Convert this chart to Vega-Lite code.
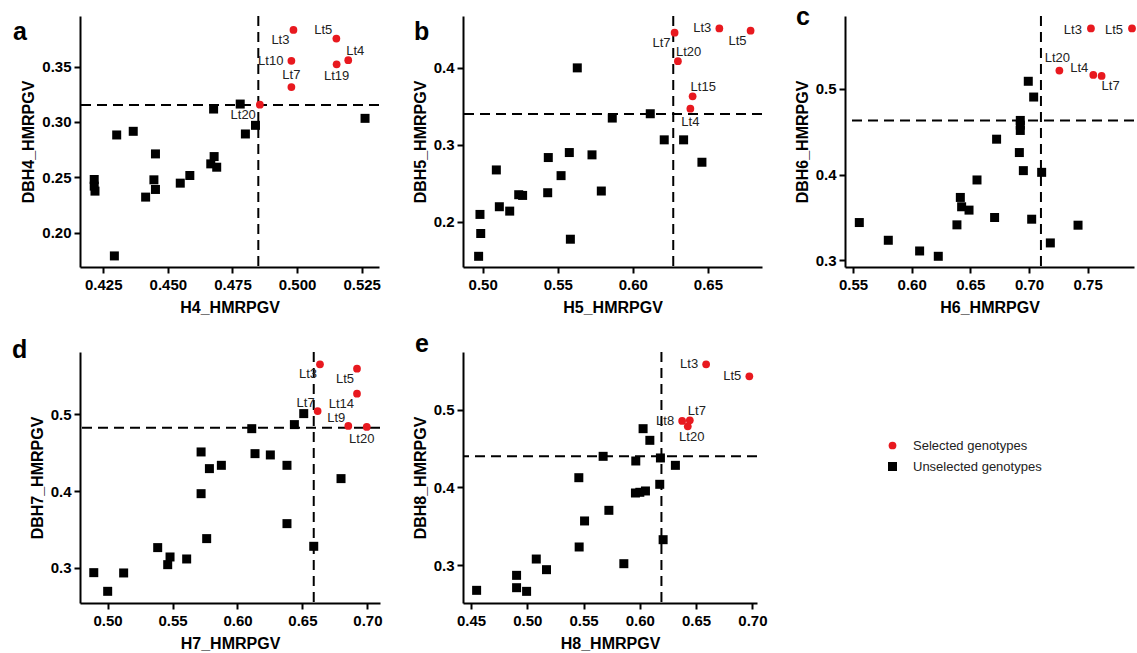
{
"$schema": "https://vega.github.io/schema/vega-lite/v6.json",
"padding": {"left": 12, "top": 5, "right": 2, "bottom": 2},
"datasets": {
"pts": [
{"panel":"a","label":"Lt3","x":0.4986,"y":0.383,"group":"Selected genotypes","pos":"BL"},
{"panel":"a","label":"Lt5","x":0.5152,"y":0.3752,"group":"Selected genotypes","pos":"TL"},
{"panel":"a","label":"Lt4","x":0.5198,"y":0.3557,"group":"Selected genotypes","pos":"TR"},
{"panel":"a","label":"Lt19","x":0.5153,"y":0.352,"group":"Selected genotypes","pos":"B"},
{"panel":"a","label":"Lt10","x":0.4978,"y":0.3551,"group":"Selected genotypes","pos":"L"},
{"panel":"a","label":"Lt7","x":0.4978,"y":0.3314,"group":"Selected genotypes","pos":"T"},
{"panel":"a","label":"Lt20","x":0.4856,"y":0.3155,"group":"Selected genotypes","pos":"BL"},
{"panel":"a","label":"","x":0.4215,"y":0.248,"group":"Unselected genotypes","pos":""},
{"panel":"a","label":"","x":0.4215,"y":0.242,"group":"Unselected genotypes","pos":""},
{"panel":"a","label":"","x":0.4218,"y":0.2375,"group":"Unselected genotypes","pos":""},
{"panel":"a","label":"","x":0.4293,"y":0.179,"group":"Unselected genotypes","pos":""},
{"panel":"a","label":"","x":0.4302,"y":0.2882,"group":"Unselected genotypes","pos":""},
{"panel":"a","label":"","x":0.4366,"y":0.2915,"group":"Unselected genotypes","pos":""},
{"panel":"a","label":"","x":0.4414,"y":0.2321,"group":"Unselected genotypes","pos":""},
{"panel":"a","label":"","x":0.4446,"y":0.2477,"group":"Unselected genotypes","pos":""},
{"panel":"a","label":"","x":0.4452,"y":0.239,"group":"Unselected genotypes","pos":""},
{"panel":"a","label":"","x":0.4452,"y":0.2711,"group":"Unselected genotypes","pos":""},
{"panel":"a","label":"","x":0.4548,"y":0.2447,"group":"Unselected genotypes","pos":""},
{"panel":"a","label":"","x":0.4585,"y":0.2516,"group":"Unselected genotypes","pos":""},
{"panel":"a","label":"","x":0.4666,"y":0.2621,"group":"Unselected genotypes","pos":""},
{"panel":"a","label":"","x":0.4679,"y":0.2687,"group":"Unselected genotypes","pos":""},
{"panel":"a","label":"","x":0.4689,"y":0.2591,"group":"Unselected genotypes","pos":""},
{"panel":"a","label":"","x":0.4677,"y":0.3116,"group":"Unselected genotypes","pos":""},
{"panel":"a","label":"","x":0.478,"y":0.3161,"group":"Unselected genotypes","pos":""},
{"panel":"a","label":"","x":0.48,"y":0.2891,"group":"Unselected genotypes","pos":""},
{"panel":"a","label":"","x":0.4839,"y":0.2969,"group":"Unselected genotypes","pos":""},
{"panel":"a","label":"","x":0.5263,"y":0.3032,"group":"Unselected genotypes","pos":""},
{"panel":"b","label":"Lt7","x":0.6278,"y":0.4457,"group":"Selected genotypes","pos":"BL"},
{"panel":"b","label":"Lt3","x":0.6576,"y":0.4513,"group":"Selected genotypes","pos":"L"},
{"panel":"b","label":"Lt5","x":0.6784,"y":0.4483,"group":"Selected genotypes","pos":"BL"},
{"panel":"b","label":"Lt20","x":0.63,"y":0.4087,"group":"Selected genotypes","pos":"TR"},
{"panel":"b","label":"Lt15","x":0.6398,"y":0.363,"group":"Selected genotypes","pos":"TR"},
{"panel":"b","label":"Lt4","x":0.6383,"y":0.347,"group":"Selected genotypes","pos":"B"},
{"panel":"b","label":"","x":0.4973,"y":0.1552,"group":"Unselected genotypes","pos":""},
{"panel":"b","label":"","x":0.4987,"y":0.1848,"group":"Unselected genotypes","pos":""},
{"panel":"b","label":"","x":0.4982,"y":0.2096,"group":"Unselected genotypes","pos":""},
{"panel":"b","label":"","x":0.5091,"y":0.2674,"group":"Unselected genotypes","pos":""},
{"panel":"b","label":"","x":0.5111,"y":0.2196,"group":"Unselected genotypes","pos":""},
{"panel":"b","label":"","x":0.518,"y":0.2139,"group":"Unselected genotypes","pos":""},
{"panel":"b","label":"","x":0.524,"y":0.2352,"group":"Unselected genotypes","pos":""},
{"panel":"b","label":"","x":0.5266,"y":0.2343,"group":"Unselected genotypes","pos":""},
{"panel":"b","label":"","x":0.5433,"y":0.2378,"group":"Unselected genotypes","pos":""},
{"panel":"b","label":"","x":0.5437,"y":0.2835,"group":"Unselected genotypes","pos":""},
{"panel":"b","label":"","x":0.5522,"y":0.26,"group":"Unselected genotypes","pos":""},
{"panel":"b","label":"","x":0.5577,"y":0.29,"group":"Unselected genotypes","pos":""},
{"panel":"b","label":"","x":0.5584,"y":0.1774,"group":"Unselected genotypes","pos":""},
{"panel":"b","label":"","x":0.563,"y":0.4,"group":"Unselected genotypes","pos":""},
{"panel":"b","label":"","x":0.5728,"y":0.287,"group":"Unselected genotypes","pos":""},
{"panel":"b","label":"","x":0.579,"y":0.24,"group":"Unselected genotypes","pos":""},
{"panel":"b","label":"","x":0.5863,"y":0.3348,"group":"Unselected genotypes","pos":""},
{"panel":"b","label":"","x":0.6116,"y":0.3404,"group":"Unselected genotypes","pos":""},
{"panel":"b","label":"","x":0.6209,"y":0.3065,"group":"Unselected genotypes","pos":""},
{"panel":"b","label":"","x":0.6338,"y":0.3065,"group":"Unselected genotypes","pos":""},
{"panel":"b","label":"","x":0.646,"y":0.2774,"group":"Unselected genotypes","pos":""},
{"panel":"c","label":"Lt3","x":0.7528,"y":0.5707,"group":"Selected genotypes","pos":"L"},
{"panel":"c","label":"Lt5","x":0.7878,"y":0.5707,"group":"Selected genotypes","pos":"L"},
{"panel":"c","label":"Lt20","x":0.7259,"y":0.5215,"group":"Selected genotypes","pos":"T"},
{"panel":"c","label":"Lt4","x":0.7548,"y":0.5164,"group":"Selected genotypes","pos":"TL"},
{"panel":"c","label":"Lt7","x":0.7619,"y":0.5152,"group":"Selected genotypes","pos":"BR"},
{"panel":"c","label":"","x":0.5554,"y":0.3441,"group":"Unselected genotypes","pos":""},
{"panel":"c","label":"","x":0.5801,"y":0.3234,"group":"Unselected genotypes","pos":""},
{"panel":"c","label":"","x":0.6068,"y":0.3109,"group":"Unselected genotypes","pos":""},
{"panel":"c","label":"","x":0.6227,"y":0.3047,"group":"Unselected genotypes","pos":""},
{"panel":"c","label":"","x":0.6386,"y":0.3414,"group":"Unselected genotypes","pos":""},
{"panel":"c","label":"","x":0.6415,"y":0.3734,"group":"Unselected genotypes","pos":""},
{"panel":"c","label":"","x":0.6426,"y":0.3625,"group":"Unselected genotypes","pos":""},
{"panel":"c","label":"","x":0.6489,"y":0.3586,"group":"Unselected genotypes","pos":""},
{"panel":"c","label":"","x":0.6557,"y":0.3938,"group":"Unselected genotypes","pos":""},
{"panel":"c","label":"","x":0.6707,"y":0.35,"group":"Unselected genotypes","pos":""},
{"panel":"c","label":"","x":0.6724,"y":0.4414,"group":"Unselected genotypes","pos":""},
{"panel":"c","label":"","x":0.6918,"y":0.4258,"group":"Unselected genotypes","pos":""},
{"panel":"c","label":"","x":0.6926,"y":0.4633,"group":"Unselected genotypes","pos":""},
{"panel":"c","label":"","x":0.6926,"y":0.4578,"group":"Unselected genotypes","pos":""},
{"panel":"c","label":"","x":0.6926,"y":0.4516,"group":"Unselected genotypes","pos":""},
{"panel":"c","label":"","x":0.6952,"y":0.4047,"group":"Unselected genotypes","pos":""},
{"panel":"c","label":"","x":0.6994,"y":0.509,"group":"Unselected genotypes","pos":""},
{"panel":"c","label":"","x":0.704,"y":0.4906,"group":"Unselected genotypes","pos":""},
{"panel":"c","label":"","x":0.7023,"y":0.348,"group":"Unselected genotypes","pos":""},
{"panel":"c","label":"","x":0.7108,"y":0.4027,"group":"Unselected genotypes","pos":""},
{"panel":"c","label":"","x":0.7182,"y":0.3203,"group":"Unselected genotypes","pos":""},
{"panel":"c","label":"","x":0.7418,"y":0.341,"group":"Unselected genotypes","pos":""},
{"panel":"d","label":"Lt3","x":0.6635,"y":0.5651,"group":"Selected genotypes","pos":"BL"},
{"panel":"d","label":"Lt5","x":0.692,"y":0.5594,"group":"Selected genotypes","pos":"BL"},
{"panel":"d","label":"Lt14","x":0.692,"y":0.5269,"group":"Selected genotypes","pos":"BL"},
{"panel":"d","label":"Lt7","x":0.6617,"y":0.5043,"group":"Selected genotypes","pos":"TL"},
{"panel":"d","label":"Lt9","x":0.6853,"y":0.4848,"group":"Selected genotypes","pos":"TL"},
{"panel":"d","label":"Lt20","x":0.6995,"y":0.4835,"group":"Selected genotypes","pos":"B"},
{"panel":"d","label":"","x":0.4894,"y":0.2939,"group":"Unselected genotypes","pos":""},
{"panel":"d","label":"","x":0.5001,"y":0.2696,"group":"Unselected genotypes","pos":""},
{"panel":"d","label":"","x":0.5124,"y":0.2935,"group":"Unselected genotypes","pos":""},
{"panel":"d","label":"","x":0.5386,"y":0.3265,"group":"Unselected genotypes","pos":""},
{"panel":"d","label":"","x":0.5463,"y":0.3043,"group":"Unselected genotypes","pos":""},
{"panel":"d","label":"","x":0.5481,"y":0.3143,"group":"Unselected genotypes","pos":""},
{"panel":"d","label":"","x":0.5609,"y":0.3117,"group":"Unselected genotypes","pos":""},
{"panel":"d","label":"","x":0.572,"y":0.451,"group":"Unselected genotypes","pos":""},
{"panel":"d","label":"","x":0.572,"y":0.3967,"group":"Unselected genotypes","pos":""},
{"panel":"d","label":"","x":0.5763,"y":0.3382,"group":"Unselected genotypes","pos":""},
{"panel":"d","label":"","x":0.5784,"y":0.4293,"group":"Unselected genotypes","pos":""},
{"panel":"d","label":"","x":0.5876,"y":0.4336,"group":"Unselected genotypes","pos":""},
{"panel":"d","label":"","x":0.611,"y":0.4813,"group":"Unselected genotypes","pos":""},
{"panel":"d","label":"","x":0.6135,"y":0.4488,"group":"Unselected genotypes","pos":""},
{"panel":"d","label":"","x":0.6253,"y":0.4471,"group":"Unselected genotypes","pos":""},
{"panel":"d","label":"","x":0.6381,"y":0.4336,"group":"Unselected genotypes","pos":""},
{"panel":"d","label":"","x":0.6381,"y":0.3577,"group":"Unselected genotypes","pos":""},
{"panel":"d","label":"","x":0.6438,"y":0.4866,"group":"Unselected genotypes","pos":""},
{"panel":"d","label":"","x":0.651,"y":0.5009,"group":"Unselected genotypes","pos":""},
{"panel":"d","label":"","x":0.6587,"y":0.3282,"group":"Unselected genotypes","pos":""},
{"panel":"d","label":"","x":0.6797,"y":0.4163,"group":"Unselected genotypes","pos":""},
{"panel":"e","label":"Lt3","x":0.6589,"y":0.5584,"group":"Selected genotypes","pos":"L"},
{"panel":"e","label":"Lt5","x":0.6973,"y":0.5429,"group":"Selected genotypes","pos":"L"},
{"panel":"e","label":"Lt8","x":0.6376,"y":0.4854,"group":"Selected genotypes","pos":"L"},
{"panel":"e","label":"Lt7","x":0.6444,"y":0.4863,"group":"Selected genotypes","pos":"TR"},
{"panel":"e","label":"Lt20","x":0.6426,"y":0.4785,"group":"Selected genotypes","pos":"B"},
{"panel":"e","label":"","x":0.455,"y":0.2674,"group":"Unselected genotypes","pos":""},
{"panel":"e","label":"","x":0.4905,"y":0.2867,"group":"Unselected genotypes","pos":""},
{"panel":"e","label":"","x":0.4905,"y":0.2708,"group":"Unselected genotypes","pos":""},
{"panel":"e","label":"","x":0.4994,"y":0.2661,"group":"Unselected genotypes","pos":""},
{"panel":"e","label":"","x":0.508,"y":0.3077,"group":"Unselected genotypes","pos":""},
{"panel":"e","label":"","x":0.5171,"y":0.294,"group":"Unselected genotypes","pos":""},
{"panel":"e","label":"","x":0.5458,"y":0.4124,"group":"Unselected genotypes","pos":""},
{"panel":"e","label":"","x":0.5461,"y":0.3232,"group":"Unselected genotypes","pos":""},
{"panel":"e","label":"","x":0.5509,"y":0.3567,"group":"Unselected genotypes","pos":""},
{"panel":"e","label":"","x":0.5674,"y":0.4399,"group":"Unselected genotypes","pos":""},
{"panel":"e","label":"","x":0.5725,"y":0.3704,"group":"Unselected genotypes","pos":""},
{"panel":"e","label":"","x":0.5858,"y":0.3017,"group":"Unselected genotypes","pos":""},
{"panel":"e","label":"","x":0.5964,"y":0.4339,"group":"Unselected genotypes","pos":""},
{"panel":"e","label":"","x":0.5961,"y":0.3927,"group":"Unselected genotypes","pos":""},
{"panel":"e","label":"","x":0.6,"y":0.3936,"group":"Unselected genotypes","pos":""},
{"panel":"e","label":"","x":0.605,"y":0.3953,"group":"Unselected genotypes","pos":""},
{"panel":"e","label":"","x":0.6029,"y":0.4755,"group":"Unselected genotypes","pos":""},
{"panel":"e","label":"","x":0.6089,"y":0.4605,"group":"Unselected genotypes","pos":""},
{"panel":"e","label":"","x":0.6183,"y":0.4378,"group":"Unselected genotypes","pos":""},
{"panel":"e","label":"","x":0.6177,"y":0.4039,"group":"Unselected genotypes","pos":""},
{"panel":"e","label":"","x":0.6207,"y":0.3326,"group":"Unselected genotypes","pos":""},
{"panel":"e","label":"","x":0.6316,"y":0.4283,"group":"Unselected genotypes","pos":""}
],
"cuts": [
{"panel":"a","xcut":0.485,"ycut":0.3152},
{"panel":"b","xcut":0.6269,"ycut":0.34},
{"panel":"c","xcut":0.7102,"ycut":0.4633},
{"panel":"d","xcut":0.6587,"ycut":0.4826},
{"panel":"e","xcut":0.6192,"ycut":0.44}
]
},
"columns": 3,
"spacing": {"row": 85, "column": 83},
"bounds": "flush",
"resolve": {"scale": {"color": "independent", "shape": "independent", "size": "independent"}, "legend": {"color": "independent", "shape": "independent", "size": "independent"}},
"concat": [
{
"width": 299, "height": 251,
"title": {"text": "a", "anchor": "start", "frame": "group", "orient": "top", "offset": -28, "baseline": "alphabetic", "dx": -67, "dy": 22, "fontSize": 25, "fontWeight": "bold", "font": "Liberation Sans", "color": "#000"},
"layer": [
{"data": {"name": "cuts"}, "transform": [{"filter": "datum.panel === 'a'"}], "mark": {"type": "rule", "strokeDash": [10, 6], "strokeWidth": 2, "color": "#000"}, "encoding": {"x": {"field": "xcut", "type": "quantitative"}}},
{"data": {"name": "cuts"}, "transform": [{"filter": "datum.panel === 'a'"}], "mark": {"type": "rule", "strokeDash": [10, 6], "strokeWidth": 2, "color": "#000"}, "encoding": {"y": {"field": "ycut", "type": "quantitative"}}},
{"data": {"name": "pts"}, "transform": [{"filter": "datum.panel === 'a'"}], "mark": {"type": "point", "filled": true, "opacity": 1},
 "encoding": {
  "x": {"field": "x", "type": "quantitative", "scale": {"domain": [0.416, 0.5317], "nice": false, "zero": false}, "axis": {"values": [0.425, 0.45, 0.475, 0.5, 0.525], "format": ".3f", "title": "H4_HMRPGV"}},
  "y": {"field": "y", "type": "quantitative", "scale": {"domain": [0.169, 0.3956], "nice": false, "zero": false}, "axis": {"values": [0.2, 0.25, 0.3, 0.35], "format": ".2f", "title": "DBH4_HMRPGV"}},
  "color": {"field": "group", "type": "nominal", "scale": {"domain": ["Selected genotypes", "Unselected genotypes"], "range": ["#e8191f", "#000000"]}, "legend": null},
  "shape": {"field": "group", "type": "nominal", "scale": {"domain": ["Selected genotypes", "Unselected genotypes"], "range": ["circle", "square"]}, "legend": null},
  "size": {"field": "group", "type": "ordinal", "scale": {"domain": ["Selected genotypes", "Unselected genotypes"], "range": [60, 81]}, "legend": null}
 }},
{"data": {"name": "pts"}, "transform": [{"filter": "datum.panel === 'a' && datum.pos === 'L'"}], "mark": {"type": "text", "align": "right", "baseline": "middle", "dx": -8, "dy": 0, "fontSize": 13, "font": "Liberation Sans", "color": "#222"}, "encoding": {"x": {"field": "x", "type": "quantitative"}, "y": {"field": "y", "type": "quantitative"}, "text": {"field": "label"}}},
{"data": {"name": "pts"}, "transform": [{"filter": "datum.panel === 'a' && datum.pos === 'TL'"}], "mark": {"type": "text", "align": "right", "baseline": "middle", "dx": -4, "dy": -9, "fontSize": 13, "font": "Liberation Sans", "color": "#222"}, "encoding": {"x": {"field": "x", "type": "quantitative"}, "y": {"field": "y", "type": "quantitative"}, "text": {"field": "label"}}},
{"data": {"name": "pts"}, "transform": [{"filter": "datum.panel === 'a' && datum.pos === 'BL'"}], "mark": {"type": "text", "align": "right", "baseline": "middle", "dx": -4, "dy": 10, "fontSize": 13, "font": "Liberation Sans", "color": "#222"}, "encoding": {"x": {"field": "x", "type": "quantitative"}, "y": {"field": "y", "type": "quantitative"}, "text": {"field": "label"}}},
{"data": {"name": "pts"}, "transform": [{"filter": "datum.panel === 'a' && datum.pos === 'TR'"}], "mark": {"type": "text", "align": "left", "baseline": "middle", "dx": -2, "dy": -9, "fontSize": 13, "font": "Liberation Sans", "color": "#222"}, "encoding": {"x": {"field": "x", "type": "quantitative"}, "y": {"field": "y", "type": "quantitative"}, "text": {"field": "label"}}},
{"data": {"name": "pts"}, "transform": [{"filter": "datum.panel === 'a' && datum.pos === 'T'"}], "mark": {"type": "text", "align": "center", "baseline": "middle", "dx": 0, "dy": -12, "fontSize": 13, "font": "Liberation Sans", "color": "#222"}, "encoding": {"x": {"field": "x", "type": "quantitative"}, "y": {"field": "y", "type": "quantitative"}, "text": {"field": "label"}}},
{"data": {"name": "pts"}, "transform": [{"filter": "datum.panel === 'a' && datum.pos === 'B'"}], "mark": {"type": "text", "align": "center", "baseline": "middle", "dx": 0, "dy": 12, "fontSize": 13, "font": "Liberation Sans", "color": "#222"}, "encoding": {"x": {"field": "x", "type": "quantitative"}, "y": {"field": "y", "type": "quantitative"}, "text": {"field": "label"}}}
]
},
{
"width": 299, "height": 251,
"title": {"text": "b", "anchor": "start", "frame": "group", "orient": "top", "offset": -28, "baseline": "alphabetic", "dx": -49, "dy": 22, "fontSize": 25, "fontWeight": "bold", "font": "Liberation Sans", "color": "#000"},
"layer": [
{"data": {"name": "cuts"}, "transform": [{"filter": "datum.panel === 'b'"}], "mark": {"type": "rule", "strokeDash": [10, 6], "strokeWidth": 2, "color": "#000"}, "encoding": {"x": {"field": "xcut", "type": "quantitative"}}},
{"data": {"name": "cuts"}, "transform": [{"filter": "datum.panel === 'b'"}], "mark": {"type": "rule", "strokeDash": [10, 6], "strokeWidth": 2, "color": "#000"}, "encoding": {"y": {"field": "ycut", "type": "quantitative"}}},
{"data": {"name": "pts"}, "transform": [{"filter": "datum.panel === 'b'"}], "mark": {"type": "point", "filled": true, "opacity": 1},
 "encoding": {
  "x": {"field": "x", "type": "quantitative", "scale": {"domain": [0.4869, 0.686], "nice": false, "zero": false}, "axis": {"values": [0.5, 0.55, 0.6, 0.65], "format": ".2f", "title": "H5_HMRPGV"}},
  "y": {"field": "y", "type": "quantitative", "scale": {"domain": [0.1413, 0.4674], "nice": false, "zero": false}, "axis": {"values": [0.2, 0.3, 0.4], "format": ".1f", "title": "DBH5_HMRPGV"}},
  "color": {"field": "group", "type": "nominal", "scale": {"domain": ["Selected genotypes", "Unselected genotypes"], "range": ["#e8191f", "#000000"]}, "legend": null},
  "shape": {"field": "group", "type": "nominal", "scale": {"domain": ["Selected genotypes", "Unselected genotypes"], "range": ["circle", "square"]}, "legend": null},
  "size": {"field": "group", "type": "ordinal", "scale": {"domain": ["Selected genotypes", "Unselected genotypes"], "range": [60, 81]}, "legend": null}
 }},
{"data": {"name": "pts"}, "transform": [{"filter": "datum.panel === 'b' && datum.pos === 'L'"}], "mark": {"type": "text", "align": "right", "baseline": "middle", "dx": -8, "dy": 0, "fontSize": 13, "font": "Liberation Sans", "color": "#222"}, "encoding": {"x": {"field": "x", "type": "quantitative"}, "y": {"field": "y", "type": "quantitative"}, "text": {"field": "label"}}},
{"data": {"name": "pts"}, "transform": [{"filter": "datum.panel === 'b' && datum.pos === 'BL'"}], "mark": {"type": "text", "align": "right", "baseline": "middle", "dx": -4, "dy": 10, "fontSize": 13, "font": "Liberation Sans", "color": "#222"}, "encoding": {"x": {"field": "x", "type": "quantitative"}, "y": {"field": "y", "type": "quantitative"}, "text": {"field": "label"}}},
{"data": {"name": "pts"}, "transform": [{"filter": "datum.panel === 'b' && datum.pos === 'TR'"}], "mark": {"type": "text", "align": "left", "baseline": "middle", "dx": -2, "dy": -9, "fontSize": 13, "font": "Liberation Sans", "color": "#222"}, "encoding": {"x": {"field": "x", "type": "quantitative"}, "y": {"field": "y", "type": "quantitative"}, "text": {"field": "label"}}},
{"data": {"name": "pts"}, "transform": [{"filter": "datum.panel === 'b' && datum.pos === 'B'"}], "mark": {"type": "text", "align": "center", "baseline": "middle", "dx": 0, "dy": 13, "fontSize": 13, "font": "Liberation Sans", "color": "#222"}, "encoding": {"x": {"field": "x", "type": "quantitative"}, "y": {"field": "y", "type": "quantitative"}, "text": {"field": "label"}}}
]
},
{
"width": 289, "height": 251,
"title": {"text": "c", "anchor": "start", "frame": "group", "orient": "top", "offset": -19, "baseline": "alphabetic", "dx": -49, "dy": 16, "fontSize": 25, "fontWeight": "bold", "font": "Liberation Sans", "color": "#000"},
"layer": [
{"data": {"name": "cuts"}, "transform": [{"filter": "datum.panel === 'c'"}], "mark": {"type": "rule", "strokeDash": [10, 6], "strokeWidth": 2, "color": "#000"}, "encoding": {"x": {"field": "xcut", "type": "quantitative"}}},
{"data": {"name": "cuts"}, "transform": [{"filter": "datum.panel === 'c'"}], "mark": {"type": "rule", "strokeDash": [10, 6], "strokeWidth": 2, "color": "#000"}, "encoding": {"y": {"field": "ycut", "type": "quantitative"}}},
{"data": {"name": "pts"}, "transform": [{"filter": "datum.panel === 'c'"}], "mark": {"type": "point", "filled": true, "opacity": 1},
 "encoding": {
  "x": {"field": "x", "type": "quantitative", "scale": {"domain": [0.5432, 0.7895], "nice": false, "zero": false}, "axis": {"values": [0.55, 0.6, 0.65, 0.7, 0.75], "format": ".2f", "title": "H6_HMRPGV"}},
  "y": {"field": "y", "type": "quantitative", "scale": {"domain": [0.2922, 0.5852], "nice": false, "zero": false}, "axis": {"values": [0.3, 0.4, 0.5], "format": ".1f", "title": "DBH6_HMRPGV"}},
  "color": {"field": "group", "type": "nominal", "scale": {"domain": ["Selected genotypes", "Unselected genotypes"], "range": ["#e8191f", "#000000"]}, "legend": null},
  "shape": {"field": "group", "type": "nominal", "scale": {"domain": ["Selected genotypes", "Unselected genotypes"], "range": ["circle", "square"]}, "legend": null},
  "size": {"field": "group", "type": "ordinal", "scale": {"domain": ["Selected genotypes", "Unselected genotypes"], "range": [60, 81]}, "legend": null}
 }},
{"data": {"name": "pts"}, "transform": [{"filter": "datum.panel === 'c' && datum.pos === 'L'"}], "mark": {"type": "text", "align": "right", "baseline": "middle", "dx": -9, "dy": 2, "fontSize": 13, "font": "Liberation Sans", "color": "#222"}, "encoding": {"x": {"field": "x", "type": "quantitative"}, "y": {"field": "y", "type": "quantitative"}, "text": {"field": "label"}}},
{"data": {"name": "pts"}, "transform": [{"filter": "datum.panel === 'c' && datum.pos === 'TL'"}], "mark": {"type": "text", "align": "right", "baseline": "middle", "dx": -5, "dy": -7, "fontSize": 13, "font": "Liberation Sans", "color": "#222"}, "encoding": {"x": {"field": "x", "type": "quantitative"}, "y": {"field": "y", "type": "quantitative"}, "text": {"field": "label"}}},
{"data": {"name": "pts"}, "transform": [{"filter": "datum.panel === 'c' && datum.pos === 'BR'"}], "mark": {"type": "text", "align": "left", "baseline": "middle", "dx": 0, "dy": 10, "fontSize": 13, "font": "Liberation Sans", "color": "#222"}, "encoding": {"x": {"field": "x", "type": "quantitative"}, "y": {"field": "y", "type": "quantitative"}, "text": {"field": "label"}}},
{"data": {"name": "pts"}, "transform": [{"filter": "datum.panel === 'c' && datum.pos === 'T'"}], "mark": {"type": "text", "align": "center", "baseline": "middle", "dx": -2, "dy": -13, "fontSize": 13, "font": "Liberation Sans", "color": "#222"}, "encoding": {"x": {"field": "x", "type": "quantitative"}, "y": {"field": "y", "type": "quantitative"}, "text": {"field": "label"}}}
]
},
{
"width": 300, "height": 251,
"title": {"text": "d", "anchor": "start", "frame": "group", "orient": "top", "offset": -13, "baseline": "alphabetic", "dx": -68, "dy": 19, "fontSize": 25, "fontWeight": "bold", "font": "Liberation Sans", "color": "#000"},
"layer": [
{"data": {"name": "cuts"}, "transform": [{"filter": "datum.panel === 'd'"}], "mark": {"type": "rule", "strokeDash": [10, 6], "strokeWidth": 2, "color": "#000"}, "encoding": {"x": {"field": "xcut", "type": "quantitative"}}},
{"data": {"name": "cuts"}, "transform": [{"filter": "datum.panel === 'd'"}], "mark": {"type": "rule", "strokeDash": [10, 6], "strokeWidth": 2, "color": "#000"}, "encoding": {"y": {"field": "ycut", "type": "quantitative"}}},
{"data": {"name": "pts"}, "transform": [{"filter": "datum.panel === 'd'"}], "mark": {"type": "point", "filled": true, "opacity": 1},
 "encoding": {
  "x": {"field": "x", "type": "quantitative", "scale": {"domain": [0.4788, 0.7097], "nice": false, "zero": false}, "axis": {"values": [0.5, 0.55, 0.6, 0.65, 0.7], "format": ".2f", "title": "H7_HMRPGV"}},
  "y": {"field": "y", "type": "quantitative", "scale": {"domain": [0.2544, 0.5811], "nice": false, "zero": false}, "axis": {"values": [0.3, 0.4, 0.5], "format": ".1f", "title": "DBH7_HMRPGV"}},
  "color": {"field": "group", "type": "nominal", "scale": {"domain": ["Selected genotypes", "Unselected genotypes"], "range": ["#e8191f", "#000000"]}, "legend": null},
  "shape": {"field": "group", "type": "nominal", "scale": {"domain": ["Selected genotypes", "Unselected genotypes"], "range": ["circle", "square"]}, "legend": null},
  "size": {"field": "group", "type": "ordinal", "scale": {"domain": ["Selected genotypes", "Unselected genotypes"], "range": [60, 81]}, "legend": null}
 }},
{"data": {"name": "pts"}, "transform": [{"filter": "datum.panel === 'd' && datum.pos === 'TL'"}], "mark": {"type": "text", "align": "right", "baseline": "middle", "dx": -3, "dy": -8, "fontSize": 13, "font": "Liberation Sans", "color": "#222"}, "encoding": {"x": {"field": "x", "type": "quantitative"}, "y": {"field": "y", "type": "quantitative"}, "text": {"field": "label"}}},
{"data": {"name": "pts"}, "transform": [{"filter": "datum.panel === 'd' && datum.pos === 'BL'"}], "mark": {"type": "text", "align": "right", "baseline": "middle", "dx": -3, "dy": 10, "fontSize": 13, "font": "Liberation Sans", "color": "#222"}, "encoding": {"x": {"field": "x", "type": "quantitative"}, "y": {"field": "y", "type": "quantitative"}, "text": {"field": "label"}}},
{"data": {"name": "pts"}, "transform": [{"filter": "datum.panel === 'd' && datum.pos === 'B'"}], "mark": {"type": "text", "align": "center", "baseline": "middle", "dx": -5, "dy": 12, "fontSize": 13, "font": "Liberation Sans", "color": "#222"}, "encoding": {"x": {"field": "x", "type": "quantitative"}, "y": {"field": "y", "type": "quantitative"}, "text": {"field": "label"}}}
]
},
{
"width": 294, "height": 251,
"title": {"text": "e", "anchor": "start", "frame": "group", "orient": "top", "offset": -9, "baseline": "alphabetic", "dx": -48, "dy": 17, "fontSize": 25, "fontWeight": "bold", "font": "Liberation Sans", "color": "#000"},
"layer": [
{"data": {"name": "cuts"}, "transform": [{"filter": "datum.panel === 'e'"}], "mark": {"type": "rule", "strokeDash": [10, 6], "strokeWidth": 2, "color": "#000"}, "encoding": {"x": {"field": "xcut", "type": "quantitative"}}},
{"data": {"name": "cuts"}, "transform": [{"filter": "datum.panel === 'e'"}], "mark": {"type": "rule", "strokeDash": [10, 6], "strokeWidth": 2, "color": "#000"}, "encoding": {"y": {"field": "ycut", "type": "quantitative"}}},
{"data": {"name": "pts"}, "transform": [{"filter": "datum.panel === 'e'"}], "mark": {"type": "point", "filled": true, "opacity": 1},
 "encoding": {
  "x": {"field": "x", "type": "quantitative", "scale": {"domain": [0.4429, 0.7041], "nice": false, "zero": false}, "axis": {"values": [0.45, 0.5, 0.55, 0.6, 0.65, 0.7], "format": ".2f", "title": "H8_HMRPGV"}},
  "y": {"field": "y", "type": "quantitative", "scale": {"domain": [0.2511, 0.5742], "nice": false, "zero": false}, "axis": {"values": [0.3, 0.4, 0.5], "format": ".1f", "title": "DBH8_HMRPGV"}},
  "color": {"field": "group", "type": "nominal", "scale": {"domain": ["Selected genotypes", "Unselected genotypes"], "range": ["#e8191f", "#000000"]}, "legend": {"orient": "none", "legendX": 423, "legendY": 87, "title": null, "labelFont": "Liberation Sans", "labelFontSize": 13, "labelColor": "#222", "symbolSize": 72, "rowPadding": 7, "labelOffset": 14}},
  "shape": {"field": "group", "type": "nominal", "scale": {"domain": ["Selected genotypes", "Unselected genotypes"], "range": ["circle", "square"]}, "legend": {"orient": "none", "legendX": 423, "legendY": 87, "title": null, "labelFont": "Liberation Sans", "labelFontSize": 13, "labelColor": "#222", "symbolSize": 72, "rowPadding": 7, "labelOffset": 14}},
  "size": {"field": "group", "type": "ordinal", "scale": {"domain": ["Selected genotypes", "Unselected genotypes"], "range": [60, 81]}, "legend": null}
 }},
{"data": {"name": "pts"}, "transform": [{"filter": "datum.panel === 'e' && datum.pos === 'L'"}], "mark": {"type": "text", "align": "right", "baseline": "middle", "dx": -8, "dy": 0, "fontSize": 13, "font": "Liberation Sans", "color": "#222"}, "encoding": {"x": {"field": "x", "type": "quantitative"}, "y": {"field": "y", "type": "quantitative"}, "text": {"field": "label"}}},
{"data": {"name": "pts"}, "transform": [{"filter": "datum.panel === 'e' && datum.pos === 'TR'"}], "mark": {"type": "text", "align": "left", "baseline": "middle", "dx": -2, "dy": -9, "fontSize": 13, "font": "Liberation Sans", "color": "#222"}, "encoding": {"x": {"field": "x", "type": "quantitative"}, "y": {"field": "y", "type": "quantitative"}, "text": {"field": "label"}}},
{"data": {"name": "pts"}, "transform": [{"filter": "datum.panel === 'e' && datum.pos === 'B'"}], "mark": {"type": "text", "align": "center", "baseline": "middle", "dx": 4, "dy": 11, "fontSize": 13, "font": "Liberation Sans", "color": "#222"}, "encoding": {"x": {"field": "x", "type": "quantitative"}, "y": {"field": "y", "type": "quantitative"}, "text": {"field": "label"}}}
]
}
],
"config": {
"view": {"stroke": null},
"font": "Liberation Sans",
"axis": {"grid": false, "domainColor": "#000", "domainWidth": 2, "tickColor": "#000", "tickWidth": 2, "tickSize": 6, "labelFont": "Liberation Sans", "labelFontSize": 15, "labelFontWeight": "bold", "labelColor": "#000", "titleFont": "Liberation Sans", "titleFontSize": 16, "titleFontWeight": "bold", "titleColor": "#000", "labelFlush": false, "labelOverlap": false, "labelBound": false},
"axisX": {"labelPadding": 4, "titlePadding": 7},
"axisY": {"labelPadding": 3, "titlePadding": 5}
}
}
